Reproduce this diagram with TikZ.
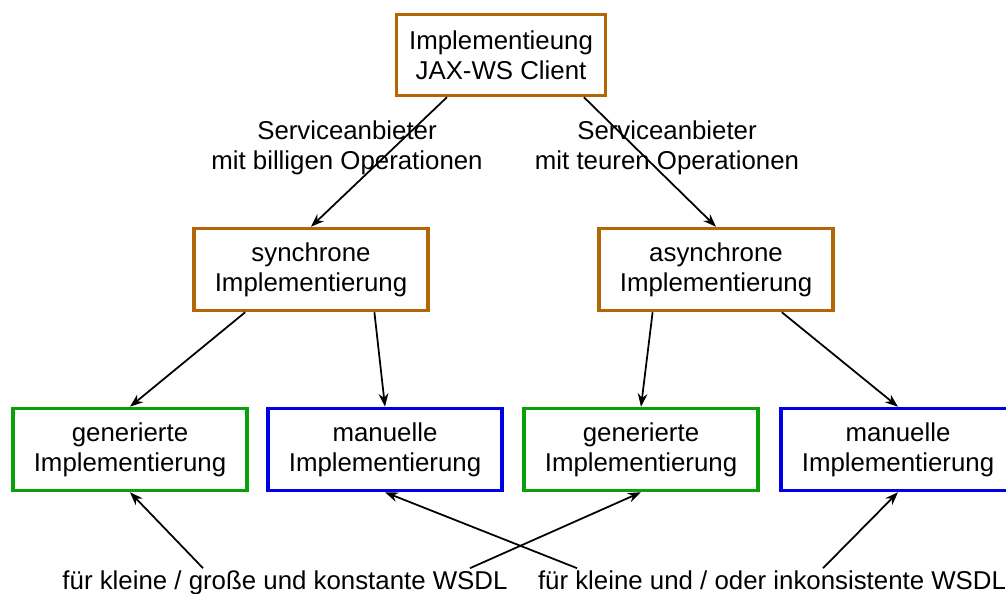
\documentclass[tikz,border=0pt]{standalone}
\usepackage{fontspec}
\setmainfont{Liberation Sans}
\usetikzlibrary{arrows.meta}
\definecolor{implbrown}{RGB}{178,102,6}
\definecolor{gengreen}{RGB}{10,160,10}
\definecolor{manblue}{RGB}{0,0,230}

\begin{document}
\begin{tikzpicture}[>={Stealth[length=7.5pt,width=5.5pt]}, x=0.02cm, y=-0.02cm,
    every node/.style={font=\fontsize{14.7pt}{17pt}\selectfont, align=center},
    implbox/.style={draw, line width=2pt, minimum width=4.68cm, minimum height=1.64cm, inner sep=2pt},
    clientbox/.style={implbox, draw=implbrown},
    genbox/.style={implbox, draw=gengreen},
    manbox/.style={implbox, draw=manblue},
    conn/.style={->, line width=1pt}]
    \useasboundingbox (0,0) rectangle (1006,594);

    \node[clientbox, minimum width=4.18cm, minimum height=1.62cm] (client) at (501,55) {Implementieung\\JAX-WS Client};
    \node[clientbox] (sync) at (311,269.5) {synchrone\\Implementierung};
    \node[clientbox] (async) at (716,269.5) {asynchrone\\Implementierung};

    \node (cheap) at (347,148) {Serviceanbieter\\mit billigen Operationen};
    \node (costly) at (667,148) {Serviceanbieter\\mit teuren Operationen};

    \node[genbox] (genA) at (130,449.5) {generierte\\Implementierung};
    \node[manbox] (manA) at (385,449.5) {manuelle\\Implementierung};
    \node[genbox] (genB) at (641,449.5) {generierte\\Implementierung};
    \node[manbox] (manB) at (898,449.5) {manuelle\\Implementierung};

    \node[anchor=base, inner sep=1pt] (wsdlSmall) at (285,589) {für kleine / große und konstante WSDL};
    \node[anchor=base, inner sep=1pt] (wsdlIncons) at (772,589) {für kleine und / oder inkonsistente WSDL};

    \draw[conn] (client.218) -- (sync.north);
    \draw[conn] (client.-27) -- (async.north);
    \draw[conn] (sync.213) -- (genA.north);
    \draw[conn] (sync.-34) -- (manA.north);
    \draw[conn] (async.214) -- (genB.north);
    \draw[conn] (async.-33) -- (manB.north);

    \draw[conn] ([xshift=-1.64cm]wsdlSmall.north) -- (genA.south);
    \draw[conn] ([xshift=3.7cm]wsdlSmall.north) -- (genB.south);
    \draw[conn] ([xshift=-3.9cm]wsdlIncons.north) -- (manA.south);
    \draw[conn] ([xshift=1.02cm]wsdlIncons.north) -- (manB.south);
\end{tikzpicture}
\end{document}
